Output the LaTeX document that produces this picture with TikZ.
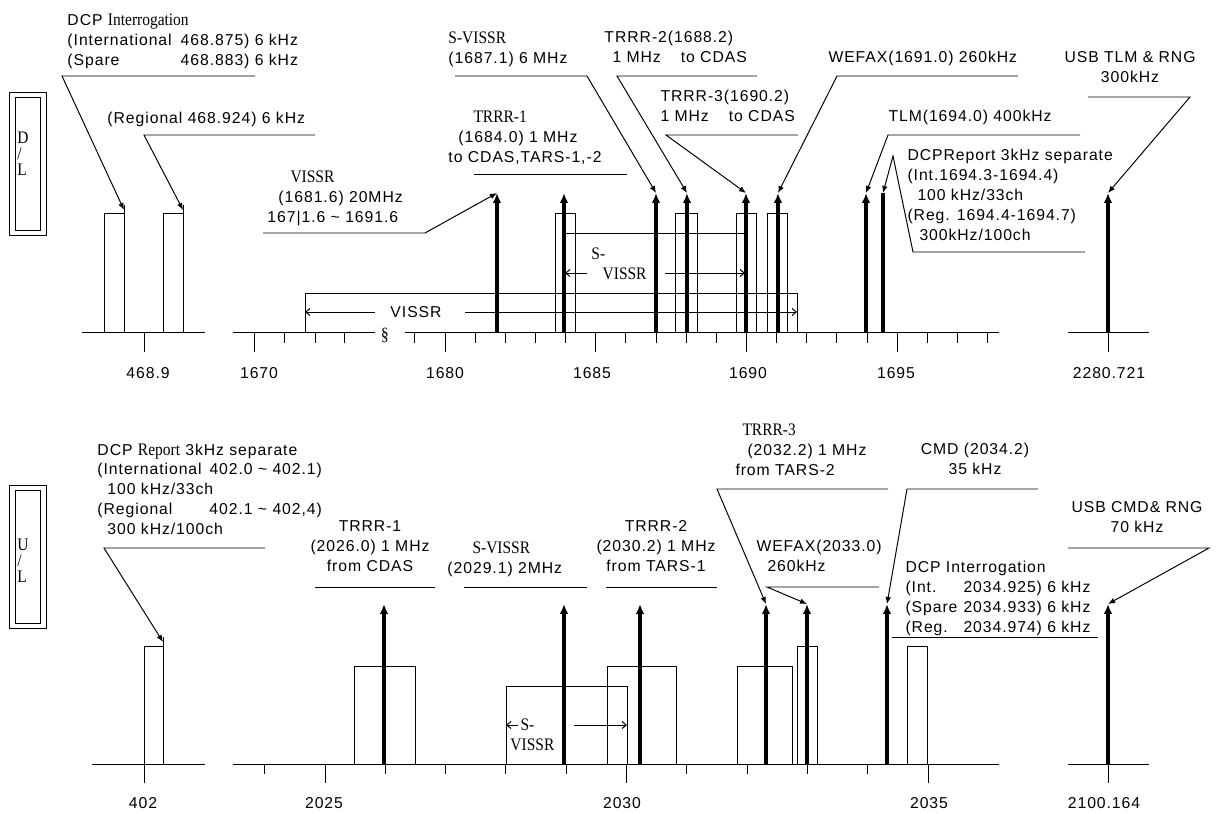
\documentclass[tikz,border=0pt]{standalone}
\usepackage{fontspec}
\setmainfont{Liberation Sans}[LetterSpace=6]
\newfontfamily\tmsfam{Liberation Serif}[FakeStretch=0.88]
\usetikzlibrary{arrows.meta}
\newcommand{\lblsize}{\fontsize{11.2}{14.2}\selectfont}
\newcommand{\tms}{\fontsize{12.5}{14.2}\tmsfam}
\tikzset{
  txt/.style={anchor=north west, align=left, inner sep=0pt, font=\lblsize},
  ctxt/.style={anchor=north, align=center, inner sep=0pt, font=\lblsize},
  stxt/.style={anchor=north west, align=left, inner sep=0pt, font=\tms},
  axlbl/.style={inner sep=0pt, font=\lblsize},
  tagtxt/.style={anchor=north west, align=left, inner sep=0pt, font=\fontsize{12.5}{11.7}\tmsfam},
  carrier/.style={line width=2.2pt, -{Latex[length=7pt,width=6pt]}},
  leader/.style={line width=0.7pt, -{Latex[length=5pt,width=4pt]}},
  spanarrow/.style={line width=0.7pt, -{Straight Barb[length=3pt,width=5pt]}}
}

\begin{document}
\begin{tikzpicture}[x=0.025cm, y=-0.025cm, line width=0.7pt]
  \useasboundingbox (0,0) rectangle (1217,814);

  % ===== Downlink =====
  % D/L tag
  \draw (9,92) rectangle (46,235);
  \draw (15,97) rectangle (40,230);
  \node[tagtxt] (dltag) at (17,131) {D\\/\\L};

  % axes
  \draw (82,332) -- (205,332);
  \draw (144,332) -- (144,352);
  \draw (233,332) -- (375,332);
  \draw (405,332) -- (999,332);
  \draw (1068,332) -- (1149,332);
  \draw (1108,332) -- (1108,352);
  \draw (254,332) -- (254,352);
  \foreach \xx in {284,315,344}
    \draw (\xx,332) -- ++(0,11);
  \foreach \f in {-1,...,18}{
    \pgfmathsetmacro\xx{445+30.15*\f}
    \pgfmathsetmacro\len{mod(\f,5)==0 ? 20 : 11}
    \draw (\xx,332) -- ++(0,\len);
  }
  \node[font=\fontsize{13}{13}\tmsfam, inner sep=0pt] (brk) at (385,335) {\S};

  % axis labels
  \node[axlbl] (f4689) at (148,373) {468.9};
  \node[axlbl] (f1670) at (259,373) {1670};
  \node[axlbl] (f1680) at (445,373) {1680};
  \node[axlbl] (f1685) at (592,373) {1685};
  \node[axlbl] (f1690) at (748,373) {1690};
  \node[axlbl] (f1695) at (896,373) {1695};
  \node[axlbl] (f2280) at (1109,373) {2280.721};

  % bands
  \draw (104,332) |- (124,213);
  \draw (124,205) -- (124,332);
  \draw (163,332) |- (183,213);
  \draw (183,205) -- (183,332);
  \draw (555,332) |- (575,213) -- (575,332);
  \draw (675,332) |- (697,213) -- (697,332);
  \draw (736,332) |- (756,213) -- (756,332);
  \draw (767,332) |- (787,213) -- (787,332);
  \draw (564,332) |- (745,233) -- (745,332);
  \draw (305,332) |- (797,293) -- (797,332);

  % spans
  \draw[spanarrow] (375,312) -- (305,312);
  \draw[spanarrow] (465,312) -- (797,312);
  \node[axlbl] (vissrspan) at (416,312) {VISSR};
  \draw[spanarrow] (587,273) -- (565,273);
  \draw[spanarrow] (665,273) -- (745,273);
  \node[stxt] (svissrspan) at (591,247) {S-\\\hspace*{0.28cm}VISSR};

  % carriers
  \foreach \n/\xx in {vissr/497,trrrA/564,svissr/656,trrrB/687,trrrC/746,wefax/778,tlm/866,usbtlm/1108}{
    \coordinate (\n) at (\xx,193);
    \draw[carrier] (\xx,332) -- (\n);
  }
  \coordinate (dcpr) at (883,193);
  \draw[line width=2.6pt] (883,332) -- (dcpr);
  \coordinate (dcpA) at (124,210);
  \coordinate (dcpB) at (183,210);

  % labels
  \node[txt] (dcpint) at (67,13) {DCP {\tms Interrogation}\\
    \makebox[2.83cm][l]{(International}468.875) 6 kHz\\
    \makebox[2.83cm][l]{(Spare}468.883) 6 kHz};
  \node[txt] (regional) at (107,112) {(Regional 468.924) 6 kHz};
  \node[txt] (vissrlbl) at (267,170) {\hspace*{0.575cm}{\tms VISSR}\\
    \hspace*{0.275cm}(1681.6) 20MHz\\167|1.6 \textasciitilde{} 1691.6};
  \node[txt] (trrrAlbl) at (448,110) {\hspace*{0.625cm}{\tms TRRR-1}\\
    \hspace*{0.25cm}(1684.0) 1 MHz\\to CDAS,TARS-1,-2};
  \node[txt] (svissrlbl) at (448,31) {{\tms S-VISSR}\\(1687.1) 6 MHz};
  \node[txt] (trrrBlbl) at (604,31) {TRRR-2(1688.2)\\
    \hspace*{0.2cm}1 MHz\hspace{0.5cm}to CDAS};
  \node[txt] (trrrClbl) at (660,90) {TRRR-3(1690.2)\\1 MHz\hspace{0.5cm}to CDAS};
  \node[txt] (wefaxlbl) at (828,51) {WEFAX(1691.0) 260kHz};
  \node[txt] (tlmlbl) at (888,110) {TLM(1694.0) 400kHz};
  \node[txt] (dcprlbl) at (907,149) {DCPReport 3kHz separate\\(Int.1694.3-1694.4)\\
    \hspace*{0.25cm}100 kHz/33ch\\(Reg. 1694.4-1694.7)\\\hspace*{0.3cm}300kHz/100ch};
  \node[ctxt] (usbtlmlbl) at (1130,51) {USB TLM \& RNG\\300kHz};

  % leaders
  \draw[leader] (255,76) -- (62,76) -- (dcpA);
  \draw[leader] (315,135) -- (144,135) -- (dcpB);
  \draw[leader] (263,233) -- (425,233) -- (vissr);
  \draw (474,174) -- (627,174);
  \draw[leader] (455,76) -- (587,76) -- (svissr);
  \draw[leader] (757,76) -- (617,76) -- (trrrB);
  \draw[leader] (798,135) -- (666,135) -- (trrrC);
  \draw[leader] (1018,76) -- (837,76) -- (wefax);
  \draw[leader] (1080,135) -- (888,135) -- (tlm);
  \draw[leader] (1085,252) -- (913,252) -- (893,156) -- (dcpr);
  \draw[leader] (1088,97) -- (1190,97) -- (usbtlm);

  % ===== Uplink =====
  % U/L tag
  \draw (9,485) rectangle (46,628);
  \draw (15,490) rectangle (40,623);
  \node[tagtxt] (ultag) at (17,538) {U\\/\\L};

  % axes
  \draw (92,764) -- (205,764);
  \draw (144,764) -- (144,783);
  \draw (233,764) -- (999,764);
  \draw (1068,764) -- (1149,764);
  \draw (1108,764) -- (1108,783);
  \foreach \f in {-1,...,10}{
    \pgfmathsetmacro\xx{325+60.3*\f}
    \pgfmathsetmacro\len{mod(\f,5)==0 ? 19 : 10}
    \draw (\xx,764) -- ++(0,\len);
  }

  % axis labels
  \node[axlbl] (f402) at (143,803) {402};
  \node[axlbl] (f2025) at (324,803) {2025};
  \node[axlbl] (f2030) at (622,803) {2030};
  \node[axlbl] (f2035) at (929,803) {2035};
  \node[axlbl] (f2100) at (1104,803) {2100.164};

  % bands
  \draw (144,764) |- (163,646);
  \draw (163,637) -- (163,764);
  \draw (354,764) |- (415,666) -- (415,764);
  \draw (506,764) |- (627,686) -- (627,764);
  \draw (607,764) |- (676,666) -- (676,764);
  \draw (737,764) |- (792,666) -- (792,764);
  \draw (797,764) |- (817,646) -- (817,764);
  \draw (907,764) |- (927,646) -- (927,764);

  % span
  \draw[spanarrow] (518,725) -- (506,725);
  \draw[spanarrow] (574,725) -- (627,725);
  \node[stxt] (usvissrspan) at (510,718) {\hspace*{0.25cm}S-\\VISSR};

  % carriers
  \foreach \n/\xx in {utrrrA/384,usvissr/564,utrrrB/640,utrrrC/766,uwefax/807,cmd/887,usbcmd/1108}{
    \coordinate (\n) at (\xx,604);
    \draw[carrier] (\xx,764) -- (\n);
  }
  \coordinate (dcprpt) at (163,642);

  % labels
  \node[txt] (dcprptlbl) at (97,443) {DCP {\tms Report} 3kHz separate\\
    \makebox[2.8cm][l]{(International}402.0 \textasciitilde{} 402.1)\\
    \hspace*{0.25cm}100 kHz/33ch\\
    \makebox[2.8cm][l]{(Regional}402.1 \textasciitilde{} 402,4)\\
    \hspace*{0.25cm}300 kHz/100ch};
  \node[ctxt] (utrrrAlbl) at (370,520) {TRRR-1\\(2026.0) 1 MHz\\from CDAS};
  \node[txt] (usvissrlbl) at (447,541) {\hspace*{0.625cm}{\tms S-VISSR}\\(2029.1) 2MHz};
  \node[ctxt] (utrrrBlbl) at (656,520) {TRRR-2\\(2030.2) 1 MHz\\from TARS-1};
  \node[txt] (utrrrClbl) at (735,423) {\hspace*{0.175cm}{\tms TRRR-3}\\
    \hspace*{0.3cm}(2032.2) 1 MHz\\from TARS-2};
  \node[txt] (uwefaxlbl) at (756,540) {WEFAX(2033.0)\\\hspace*{0.275cm}260kHz};
  \node[ctxt] (cmdlbl) at (975,443) {CMD (2034.2)\\35 kHz};
  \node[ctxt] (usbcmdlbl) at (1137,501) {USB CMD\& RNG\\70 kHz};
  \node[txt] (udcpintlbl) at (905,561) {DCP Interrogation\\
    \makebox[1.45cm][l]{(Int.}2034.925) 6 kHz\\
    \makebox[1.45cm][l]{(Spare}2034.933) 6 kHz\\
    \makebox[1.45cm][l]{(Reg.}2034.974) 6 kHz};

  % leaders
  \draw[leader] (265,548) -- (104,548) -- (dcprpt);
  \draw (315,587) -- (435,587);
  \draw (464,587) -- (587,587);
  \draw (606,587) -- (717,587);
  \draw[leader] (888,489) -- (717,489) -- (utrrrC);
  \draw[leader] (879,587) -- (767,587) -- (uwefax);
  \draw[leader] (1038,489) -- (907,489) -- (cmd);
  \draw[leader] (1068,548) -- (1209,548) -- (usbcmd);
  \draw (892,637) -- (1098,637);
\end{tikzpicture}
\end{document}
